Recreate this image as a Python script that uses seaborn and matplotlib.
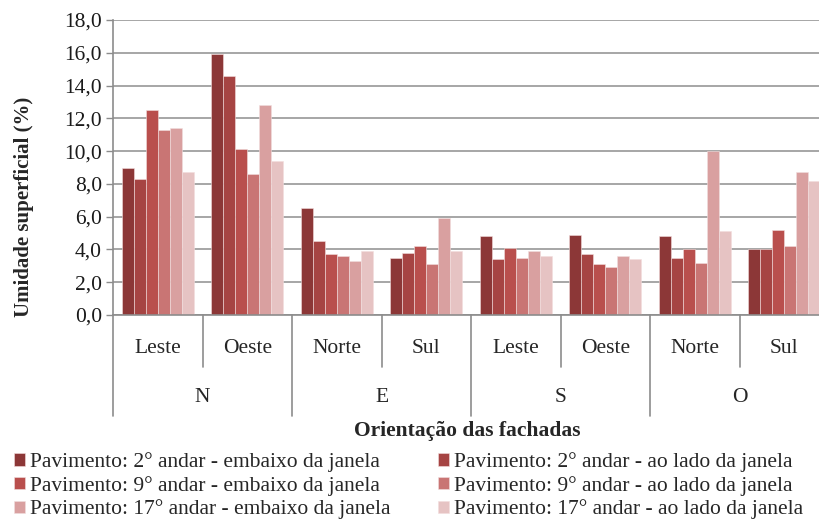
import numpy as np
import pandas as pd
import seaborn as sns
import matplotlib.pyplot as plt
from matplotlib.ticker import FuncFormatter

# fachadas (nivel 1) e orientacao (nivel 2)
orientacoes = ['N', 'E', 'S', 'O']
fachadas = ['Leste', 'Oeste', 'Norte', 'Sul', 'Leste', 'Oeste', 'Norte', 'Sul']

series = ['Pavimento: 2° andar - embaixo da janela',
          'Pavimento: 2° andar - ao lado da janela',
          'Pavimento: 9° andar - embaixo da janela',
          'Pavimento: 9° andar - ao lado da janela',
          'Pavimento: 17° andar - embaixo da janela',
          'Pavimento: 17° andar - ao lado da janela']

# umidade superficial (%) por serie, na ordem das 8 fachadas
emb_2 = [9.0, 15.9, 6.5, 3.5, 4.8, 4.9, 4.8, 4.0]
lado_2 = [8.3, 14.6, 4.5, 3.8, 3.4, 3.7, 3.5, 4.0]
emb_9 = [12.5, 10.1, 3.7, 4.2, 4.1, 3.1, 4.0, 5.2]
lado_9 = [11.3, 8.6, 3.6, 3.1, 3.5, 2.9, 3.2, 4.2]
emb_17 = [11.4, 12.8, 3.3, 5.9, 3.9, 3.6, 10.0, 8.7]
lado_17 = [8.7, 9.4, 3.9, 3.9, 3.6, 3.4, 5.1, 8.2]

cores = ['#8c3737', '#a64443', '#b94f4d', '#c97574', '#d9a0a0', '#e6c3c3']

valores = [emb_2, lado_2, emb_9, lado_9, emb_17, lado_17]
linhas = []
for s, vals in zip(series, valores):
    for i, v in enumerate(vals):
        linhas.append({'pos': i, 'serie': s, 'valor': v})
df = pd.DataFrame(linhas)

sns.set_style('white')
plt.rcParams['font.family'] = ['Liberation Serif', 'DejaVu Serif']
fs = 15.5

fig = plt.figure(figsize=(8.19, 5.20), dpi=100)
ax = fig.add_axes([113 / 819, 1 - 315 / 520, 716 / 819, 295 / 520])

sns.barplot(data=df, x='pos', y='valor', hue='serie', hue_order=series,
            palette=cores, width=0.8, ax=ax, legend=True, saturation=1,
            linewidth=0.4, edgecolor='#f2dede')

ax.set_ylim(0, 18)
ax.set_xlim(-0.5, 7.5)
ax.set_yticks(np.arange(0, 19, 2))
ax.yaxis.set_major_formatter(FuncFormatter(lambda v, p: f'{v:.1f}'.replace('.', ',')))
ax.tick_params(axis='y', labelsize=fs, length=5, width=1, color='#8c8c8c',
               left=True, pad=3, labelcolor='#1a1a1a')
ax.set_xticks([])
ax.set_xlabel('')
ax.set_ylabel('')
ax.yaxis.grid(True, color='#a6a6a6', lw=1.4)
ax.set_axisbelow(True)
for sp in ['top', 'right']:
    ax.spines[sp].set_visible(False)
for sp in ['left', 'bottom']:
    ax.spines[sp].set_color('#8c8c8c')
    ax.spines[sp].set_linewidth(1.2)

# eixo x em dois niveis
tr = ax.get_xaxis_transform()
for i, f in enumerate(fachadas):
    ax.text(i, -0.112, f, transform=tr, ha='center', va='center', fontsize=fs)
for k, g in enumerate(orientacoes):
    ax.text(2 * k + 0.5, -0.278, g, transform=tr, ha='center', va='center', fontsize=fs)
for x in [0.5, 2.5, 4.5, 6.5]:
    ax.plot([x, x], [0, -0.176], transform=tr, color='#8c8c8c', lw=1.2, clip_on=False)
for x in [-0.5, 1.5, 3.5, 5.5, 7.5]:
    ax.plot([x, x], [0, -0.342], transform=tr, color='#8c8c8c', lw=1.2, clip_on=False)

fig.text(24 / 819, 1 - 207 / 520, 'Umidade superficial (%)', rotation=90,
         ha='center', va='center', fontsize=fs - 0.5, fontweight='bold')
fig.text(467 / 819, 1 - 431 / 520, 'Orientação das fachadas',
         ha='center', va='center', fontsize=fs, fontweight='bold')

handles, labels = ax.get_legend_handles_labels()
ax.get_legend().remove()
ordem = [0, 2, 4, 1, 3, 5]
leg = fig.legend([handles[i] for i in ordem], [labels[i] for i in ordem],
                 ncol=2, loc='upper left', bbox_to_anchor=(10 / 819, 1 - 448 / 520),
                 frameon=True, facecolor='white', edgecolor='none', framealpha=1,
                 fontsize=fs, handlelength=0.5, handleheight=0.5, handletextpad=0.25,
                 columnspacing=2.2, labelspacing=0.17, borderpad=0.2, borderaxespad=0)

fig.savefig('out.png', dpi=100)
